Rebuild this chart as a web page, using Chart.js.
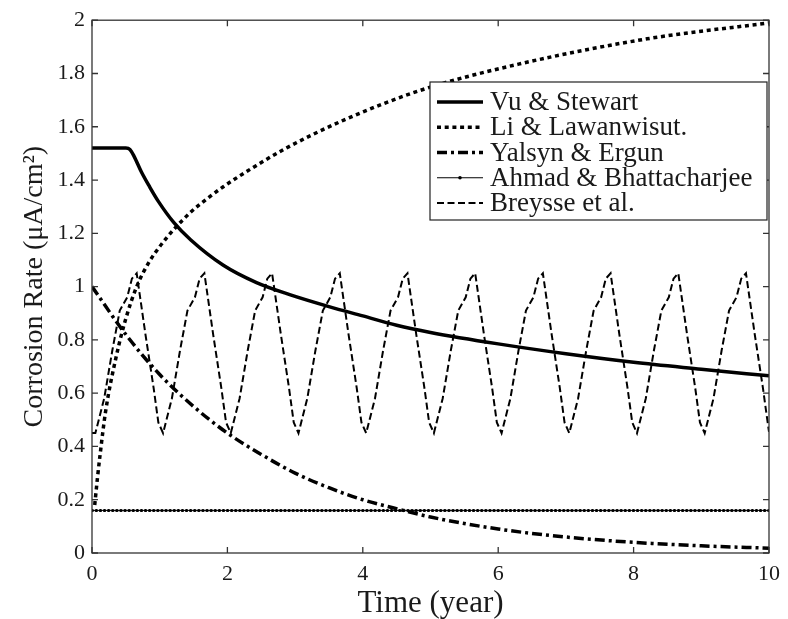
<!DOCTYPE html>
<html lang="en">
<head>
<meta charset="UTF-8">
<title>Corrosion Rate vs Time</title>
<script src="https://cdn.jsdelivr.net/npm/chart.js@4.4.1/dist/chart.umd.min.js"></script>
<style>
  body { margin: 0; background: #fff; }
</style>
</head>
<body>
<canvas id="chart" width="788" height="619"></canvas>
<script>
// axis ticks
const xTicks = [0, 2, 4, 6, 8, 10];
const xTickLabels = ['0', '2', '4', '6', '8', '10'];
const yTicks = [0, 0.2, 0.4, 0.6, 0.8, 1, 1.2, 1.4, 1.6, 1.8, 2];
const yTickLabels = ['0', '0.2', '0.4', '0.6', '0.8', '1', '1.2', '1.4', '1.6', '1.8', '2'];

// Vu & Stewart
const vuTime = [0, 0.5, 0.56, 0.62, 0.73, 0.85, 0.98, 1.21, 1.46, 1.94, 2.43, 2.92, 3.5, 4, 4.5, 5, 6, 7, 8, 9, 10];
const vuRate = [1.52, 1.52, 1.515, 1.49, 1.43, 1.375, 1.32, 1.24, 1.175, 1.08, 1.015, 0.97, 0.925, 0.89, 0.855, 0.828, 0.785, 0.748, 0.716, 0.69, 0.665];

// Li & Lawanwisut.
const liTime = [0.04, 0.08, 0.12, 0.2, 0.36, 0.5, 0.66, 0.85, 1.0, 1.21, 1.46, 1.7, 1.94, 2.43, 2.87, 3.72, 4.89, 6.3, 8.2, 10];
const liRate = [0.18, 0.28, 0.37, 0.53, 0.74, 0.88, 1.0, 1.095, 1.15, 1.215, 1.28, 1.33, 1.375, 1.455, 1.52, 1.625, 1.74, 1.835, 1.93, 1.99];

// Yalsyn & Ergun
const yeTime = [0, 0.5, 1, 1.5, 2, 2.5, 3, 3.5, 4, 4.6, 5, 6, 7, 8, 9, 10];
const yeRate = [1.0, 0.82, 0.67, 0.55, 0.45, 0.37, 0.30, 0.245, 0.20, 0.16, 0.135, 0.09, 0.06, 0.04, 0.027, 0.018];

// Ahmad & Bhattacharjee
const abTime = [0, 10];
const abRate = [0.16, 0.16];

// Breysse et al.
const brTime = [0,
  0.05, 0.18, 0.30, 0.41, 0.52, 0.59, 0.66, 0.79, 0.91, 0.98,
  1.05, 1.18, 1.30, 1.41, 1.52, 1.59, 1.66, 1.79, 1.91, 1.98,
  2.05, 2.18, 2.30, 2.41, 2.52, 2.59, 2.66, 2.79, 2.91, 2.98,
  3.05, 3.18, 3.30, 3.41, 3.52, 3.59, 3.66, 3.79, 3.91, 3.98,
  4.05, 4.18, 4.30, 4.41, 4.52, 4.59, 4.66, 4.79, 4.91, 4.98,
  5.05, 5.18, 5.30, 5.41, 5.52, 5.59, 5.66, 5.79, 5.91, 5.98,
  6.05, 6.18, 6.30, 6.41, 6.52, 6.59, 6.66, 6.79, 6.91, 6.98,
  7.05, 7.18, 7.30, 7.41, 7.52, 7.59, 7.66, 7.79, 7.91, 7.98,
  8.05, 8.18, 8.30, 8.41, 8.52, 8.59, 8.66, 8.79, 8.91, 8.98,
  9.05, 9.18, 9.30, 9.41, 9.52, 9.59, 9.66, 9.79, 9.91, 9.98,
  10];
const brRate = [0.45,
  0.45, 0.58, 0.76, 0.91, 0.96, 1.03, 1.05, 0.82, 0.62, 0.49,
  0.45, 0.58, 0.76, 0.91, 0.96, 1.03, 1.05, 0.82, 0.62, 0.49,
  0.45, 0.58, 0.76, 0.91, 0.96, 1.03, 1.05, 0.82, 0.62, 0.49,
  0.45, 0.58, 0.76, 0.91, 0.96, 1.03, 1.05, 0.82, 0.62, 0.49,
  0.45, 0.58, 0.76, 0.91, 0.96, 1.03, 1.05, 0.82, 0.62, 0.49,
  0.45, 0.58, 0.76, 0.91, 0.96, 1.03, 1.05, 0.82, 0.62, 0.49,
  0.45, 0.58, 0.76, 0.91, 0.96, 1.03, 1.05, 0.82, 0.62, 0.49,
  0.45, 0.58, 0.76, 0.91, 0.96, 1.03, 1.05, 0.82, 0.62, 0.49,
  0.45, 0.58, 0.76, 0.91, 0.96, 1.03, 1.05, 0.82, 0.62, 0.49,
  0.45, 0.58, 0.76, 0.91, 0.96, 1.03, 1.05, 0.82, 0.62, 0.49,
  0.455];

const serif = '"Liberation Serif", "Times New Roman", serif';
const ink = '#1a1a1a';

function toXY(t, v) {
  return t.map((tt, i) => ({ x: tt, y: v[i] }));
}

// legend rows: label + how to draw the sample line
const legendRows = [
  { label: 'Vu & Stewart', width: 3.5, dash: [] },
  { label: 'Li & Lawanwisut.', width: 3.5, dash: [4, 3.7] },
  { label: 'Yalsyn & Ergun', width: 3.5, dash: [10, 4, 3, 4] },
  { label: 'Ahmad & Bhattacharjee', width: 1, dash: [], marker: true },
  { label: 'Breysse et al.', width: 2, dash: [7, 3.5] }
];

const framePlugin = {
  id: 'frame',
  afterDatasetsDraw(chart) {
    const { ctx, chartArea: a, scales: { x, y } } = chart;
    ctx.save();
    ctx.strokeStyle = '#333';
    ctx.lineWidth = 1.3;
    ctx.setLineDash([]);
    ctx.strokeRect(a.left, a.top, a.right - a.left, a.bottom - a.top);
    ctx.beginPath();
    xTicks.forEach(v => {
      const px = x.getPixelForValue(v);
      ctx.moveTo(px, a.bottom); ctx.lineTo(px, a.bottom - 6);
      ctx.moveTo(px, a.top); ctx.lineTo(px, a.top + 6);
    });
    yTicks.forEach(v => {
      const py = y.getPixelForValue(v);
      ctx.moveTo(a.left, py); ctx.lineTo(a.left + 6, py);
      ctx.moveTo(a.right, py); ctx.lineTo(a.right - 6, py);
    });
    ctx.stroke();

    // legend box
    const bx = 430, by = 82, bw = 337, rowH = 25.25;
    const bh = 138;
    ctx.fillStyle = '#fff';
    ctx.fillRect(bx, by, bw, bh);
    ctx.strokeStyle = '#222';
    ctx.lineWidth = 1.2;
    ctx.strokeRect(bx, by, bw, bh);
    ctx.font = '27px ' + serif;
    ctx.textBaseline = 'middle';
    legendRows.forEach((r, i) => {
      const ry = by + 20 + i * rowH;
      ctx.strokeStyle = '#000';
      ctx.lineWidth = r.width;
      ctx.setLineDash(r.dash);
      ctx.beginPath();
      ctx.moveTo(437, ry); ctx.lineTo(483, ry);
      ctx.stroke();
      if (r.marker) {
        ctx.fillStyle = '#000';
        ctx.beginPath();
        ctx.arc(460, ry, 1.8, 0, Math.PI * 2);
        ctx.fill();
      }
      ctx.setLineDash([]);
      ctx.fillStyle = ink;
      ctx.fillText(r.label, 490, ry + 1);
    });
    ctx.restore();
  }
};

const ctx = document.getElementById('chart').getContext('2d');
new Chart(ctx, {
  type: 'line',
  data: {
    datasets: [
      { label: 'Vu & Stewart', data: toXY(vuTime, vuRate), borderColor: '#000', borderWidth: 3.5, cubicInterpolationMode: 'monotone' },
      { label: 'Li & Lawanwisut.', data: toXY(liTime, liRate), borderColor: '#000', borderWidth: 3.5, borderDash: [4, 3.7], cubicInterpolationMode: 'monotone' },
      { label: 'Yalsyn & Ergun', data: toXY(yeTime, yeRate), borderColor: '#000', borderWidth: 3.5, borderDash: [10, 4, 3, 4], cubicInterpolationMode: 'monotone' },
      { label: 'Ahmad & Bhattacharjee', data: toXY(abTime, abRate), borderColor: '#000', borderWidth: 1 },
      { label: 'Ahmad & Bhattacharjee (markers)', data: toXY(abTime, abRate), borderColor: '#000', borderWidth: 3, borderDash: [0.5, 3.6], borderCapStyle: 'round' },
      { label: 'Breysse et al.', data: toXY(brTime, brRate), borderColor: '#000', borderWidth: 2, borderDash: [7, 3.5] }
    ]
  },
  options: {
    responsive: false,
    animation: false,
    layout: { padding: { top: 18, right: 12, left: 0, bottom: 0 } },
    elements: { point: { radius: 0 }, line: { fill: false } },
    plugins: { legend: { display: false }, tooltip: { enabled: false } },
    scales: {
      x: {
        type: 'linear', min: 0, max: 10,
        afterBuildTicks: s => { s.ticks = xTicks.map(v => ({ value: v })); },
        afterFit: s => { s.height = 66; },
        grid: { display: false, drawTicks: false },
        border: { display: false },
        ticks: {
          padding: 8, color: ink, font: { family: serif, size: 22 },
          callback: (v, i) => xTickLabels[i]
        },
        title: { display: true, text: 'Time (year)', color: ink, font: { family: serif, size: 31, lineHeight: 1 }, padding: 0 }
      },
      y: {
        type: 'linear', min: 0, max: 2,
        afterBuildTicks: s => { s.ticks = yTicks.map(v => ({ value: v })); },
        afterFit: s => { s.width = 92; },
        grid: { display: false, drawTicks: false },
        border: { display: false },
        ticks: {
          padding: 7, color: ink, font: { family: serif, size: 22 },
          callback: (v, i) => yTickLabels[i]
        },
        title: { display: true, text: 'Corrosion Rate (\u03bcA/cm\u00b2)', color: ink, font: { family: serif, size: 28 }, padding: { top: 18, bottom: 0 } }
      }
    }
  },
  plugins: [framePlugin]
});
</script>
</body>
</html>
